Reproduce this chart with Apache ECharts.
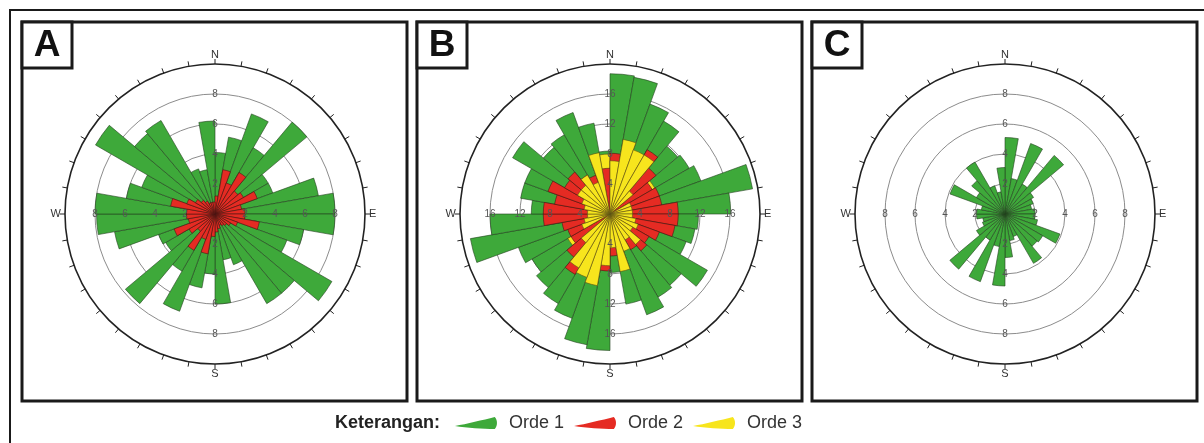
<!DOCTYPE html>
<html>
<head>
<meta charset="utf-8">
<script src="https://cdn.jsdelivr.net/npm/echarts@6/dist/echarts.min.js"></script>
<style>
html,body{margin:0;padding:0;background:#ffffff;}
#chart{width:1204px;height:443px;}
</style>
</head>
<body>
<div id="chart"></div>
<script>
// 10-degree direction bins, clockwise from north (bin start in degrees)
const binStart = [0,10,20,30,40,50,60,70,80,90,100,110,120,130,140,150,160,170,
                  180,190,200,210,220,230,240,250,260,270,280,290,300,310,320,330,340,350];

// Panel A
const panelA_orde1 = [4.1,5.2,7.1,5.1,8.0,4.1,4.1,7.0,8.0,8.0,6.0,5.1,9.0,6.9,6.9,3.6,3.1,6.0,
                      4.0,5.0,6.9,4.4,7.8,3.8,4.0,6.8,7.9,8.0,6.0,5.2,9.2,7.0,7.2,3.2,3.0,6.2];
const panelA_orde2 = [1.2,3.0,2.2,3.2,2.0,2.2,3.0,1.8,2.0,2.0,3.0,1.6,1.2,1.0,0.9,0.8,1.0,1.2,
                      1.5,2.7,1.8,2.8,1.5,2.0,2.9,1.8,1.9,1.9,3.0,2.0,1.5,1.2,1.0,0.8,0.8,0.8];

// Panel B
const panelB_orde1 = [18.7,18.5,15.6,14.3,11.8,12.2,12.9,19.3,16.1,11.8,11.5,10.8,15.0,12.4,12.8,14.3,12.2,7.8,
                      18.2,17.7,14.8,13.8,12.8,12.0,13.0,18.9,16.0,10.5,12.1,12.1,15.0,11.6,12.2,14.4,12.3,8.4];
const panelB_orde2 = [8.1,6.0,7.5,9.9,8.0,6.5,7.0,7.0,9.1,9.1,8.8,7.0,6.0,6.4,5.5,5.0,5.4,5.6,
                      7.6,6.5,7.5,9.3,7.5,6.0,6.0,6.5,8.9,8.9,7.5,8.8,7.0,7.3,6.0,5.5,5.8,6.1];
const panelB_orde3 = [7.1,10.1,9.1,9.1,4.0,6.9,3.0,3.0,3.0,3.0,3.5,4.0,3.5,5.3,4.0,5.3,7.8,4.5,
                      6.9,9.7,9.0,8.3,5.0,6.5,4.0,3.5,3.0,3.0,3.5,4.0,5.0,5.0,6.0,4.5,8.3,8.0];
// bins of panel B whose Orde 3 wedge lies beneath the Orde 2 wedge
const panelB_orde3Beneath = [50, 230, 350];

// Panel C
const panelC_orde1 = [5.1,2.4,5.0,2.3,5.1,2.2,2.0,1.8,2.0,2.0,2.2,3.9,2.9,2.8,3.8,1.6,1.8,2.9,
                      4.8,2.2,4.8,2.0,4.8,2.2,1.6,1.5,1.9,1.9,1.6,3.9,2.2,2.9,4.0,2.0,1.5,3.1];

// Ring values and labels
const ringTicksAC = [2, 4, 6, 8];
const ringTicksB = [4, 8, 12, 16];
const compassLabels = {0: 'N', 90: 'E', 180: 'S', 270: 'W'};
const legendNames = ['Orde 1', 'Orde 2', 'Orde 3'];
const legendTitle = 'Keterangan:';

const FONT = "'Liberation Sans', Arial, sans-serif";

const fillColors = {'Orde 1': '#3ea93a', 'Orde 2': '#e52b23', 'Orde 3': '#f7e51d'};
const edgeColors = {'Orde 1': '#24421f', 'Orde 2': '#4a1612', 'Orde 3': '#5c5214'};

const panels = [
  {letter: 'A', boxX: 22,  cx: 215,  rings: ringTicksAC,
   layers: [['Orde 1', panelA_orde1], ['Orde 2', panelA_orde2]]},
  {letter: 'B', boxX: 417, cx: 610,  rings: ringTicksB,
   layers: [['Orde 1', panelB_orde1],
            ['Orde 3', panelB_orde3.map((v, i) => panelB_orde3Beneath.includes(binStart[i]) ? v : '-')],
            ['Orde 2', panelB_orde2],
            ['Orde 3', panelB_orde3.map((v, i) => panelB_orde3Beneath.includes(binStart[i]) ? '-' : v)]]},
  {letter: 'C', boxX: 812, cx: 1005, rings: ringTicksAC,
   layers: [['Orde 1', panelC_orde1]]}
];

const CY = 214;
const R_OUTER = 150;   // compass ring
const R_RING = 120;    // outermost labelled ring

const hiddenParts = {
  axisLine: {show: false}, axisTick: {show: false}, axisLabel: {show: false},
  splitLine: {show: false}, splitArea: {show: false}
};

const polar = [], angleAxis = [], radiusAxis = [], series = [], graphic = [];

// outer figure frame
graphic.push({type: 'rect', silent: true, z: 0,
  shape: {x: 10, y: 10, width: 1200, height: 440},
  style: {fill: 'none', stroke: '#1a1a1a', lineWidth: 2}});

panels.forEach(p => {
  const ringMax = p.rings[p.rings.length - 1];
  const step = p.rings[0];
  const outerMax = ringMax * R_OUTER / R_RING;

  // panel frame and letter box
  graphic.push({type: 'rect', silent: true, z: 1,
    shape: {x: p.boxX, y: 22, width: 385, height: 379},
    style: {fill: 'none', stroke: '#1a1a1a', lineWidth: 3}});
  graphic.push({type: 'rect', silent: true, z: 1,
    shape: {x: p.boxX, y: 22, width: 50, height: 46},
    style: {fill: '#ffffff', stroke: '#1a1a1a', lineWidth: 3}});
  graphic.push({type: 'text', silent: true, z: 2,
    x: p.boxX + 25, y: 46,
    style: {text: p.letter, font: "bold 37px 'Liberation Sans', Arial, sans-serif",
            fill: '#111111', textAlign: 'center', textVerticalAlign: 'middle'}});

  // compass ring with 10-degree ticks
  polar.push({center: [p.cx, CY], radius: R_OUTER});
  angleAxis.push({polarIndex: polar.length - 1, type: 'value', min: 0, max: 360, interval: 10,
    startAngle: 90, clockwise: true,
    axisLine: {show: true, lineStyle: {color: '#222222', width: 1.6}},
    axisTick: {show: true, length: 5, lineStyle: {color: '#222222', width: 1}},
    axisLabel: {show: true, margin: 4, color: '#333333', fontSize: 11, fontFamily: FONT,
                formatter: v => compassLabels[v] || ''},
    splitLine: {show: false}, splitArea: {show: false}});
  radiusAxis.push(Object.assign({polarIndex: polar.length - 1, type: 'value', min: 0, max: outerMax}, hiddenParts));

  // grey reference rings
  polar.push({center: [p.cx, CY], radius: R_RING});
  angleAxis.push(Object.assign({polarIndex: polar.length - 1, type: 'value', min: 0, max: 360, startAngle: 90}, hiddenParts));
  radiusAxis.push({polarIndex: polar.length - 1, type: 'value', min: 0, max: ringMax, interval: step, z: 0,
    axisLine: {show: false}, axisTick: {show: false}, axisLabel: {show: false}, splitArea: {show: false},
    splitLine: {show: true, lineStyle: {color: '#8c8c8c', width: 1}}});

  // direction bars
  polar.push({center: [p.cx, CY], radius: R_OUTER});
  const barPolar = polar.length - 1;
  angleAxis.push(Object.assign({polarIndex: barPolar, type: 'category', data: binStart.map(String),
    boundaryGap: true, startAngle: 90, clockwise: true}, hiddenParts));
  radiusAxis.push(Object.assign({polarIndex: barPolar, type: 'value', min: 0, max: outerMax}, hiddenParts));
  p.layers.forEach(([name, values]) => {
    series.push({type: 'bar', coordinateSystem: 'polar', polarIndex: barPolar, name: name,
      data: values, barCategoryGap: '0%', barGap: '-100%', silent: true,
      itemStyle: {color: fillColors[name], borderColor: edgeColors[name], borderWidth: 0.6}});
  });

  // ring value labels along N, E, W, S
  [90, 0, 180, 270].forEach(start => {
    polar.push({center: [p.cx, CY], radius: R_RING});
    angleAxis.push(Object.assign({polarIndex: polar.length - 1, type: 'value', min: 0, max: 360, startAngle: start}, hiddenParts));
    radiusAxis.push({polarIndex: polar.length - 1, type: 'value', min: 0, max: ringMax, interval: step, z: 10,
      axisLine: {show: false}, axisTick: {show: false}, splitLine: {show: false}, splitArea: {show: false},
      axisLabel: {show: true, margin: 0, align: 'center', verticalAlign: 'middle', rotate: 0,
                  color: '#555555', fontSize: 10, fontFamily: FONT,
                  formatter: v => (v === 0 ? '' : String(v))}});
  });
});

const chart = echarts.init(document.getElementById('chart'), null, {renderer: 'canvas'});
chart.setOption({
  animation: false,
  backgroundColor: '#ffffff',
  title: {text: legendTitle, left: 335, top: 414, padding: 0,
    textStyle: {fontSize: 18, fontWeight: 'bold', fontFamily: FONT, color: '#222222'}},
  legend: {data: legendNames, left: 455, top: 414, padding: 0, itemGap: 10,
    itemWidth: 42, itemHeight: 12, selectedMode: false,
    icon: 'path://M0,9 C12,7 28,3 40,0 C43,3 43,9 40,12 C28,12 12,11 0,9 Z',
    itemStyle: {borderWidth: 0},
    textStyle: {fontSize: 18, fontFamily: FONT, color: '#333333', padding: [0, 0, 0, 7]}},
  polar: polar,
  angleAxis: angleAxis,
  radiusAxis: radiusAxis,
  series: series,
  graphic: graphic
});
</script>
</body>
</html>
